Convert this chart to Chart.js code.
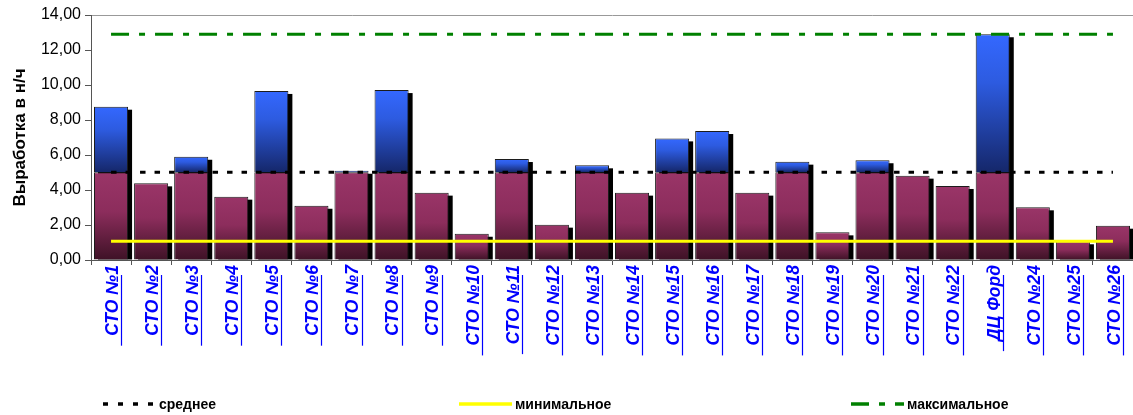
<!DOCTYPE html>
<html lang="ru">
<head>
<meta charset="utf-8">
<title>Выработка в н/ч</title>
<script src="https://cdn.jsdelivr.net/npm/chart.js@4.4.1/dist/chart.umd.min.js"></script>
<style>
body{margin:0;background:#fff;font-family:Arial,"Liberation Sans",sans-serif;}
.chart-box{position:relative;width:1133px;height:415px;}
.legend{position:absolute;left:0;top:395px;width:1133px;height:18px;}
.legend .item{position:absolute;top:0;height:18px;display:flex;align-items:center;font-weight:bold;font-size:14px;color:#000;white-space:nowrap;}
.legend svg{margin-right:3px;}
</style>
</head>
<body>
<div class="chart-box">
<canvas id="workChart"></canvas>
<div class="legend" id="legend"></div>
</div>
<script>
const stations = [
'СТО №1','СТО №2','СТО №3','СТО №4','СТО №5','СТО №6','СТО №7','СТО №8','СТО №9','СТО №10',
'СТО №11','СТО №12','СТО №13','СТО №14','СТО №15','СТО №16','СТО №17','СТО №18','СТО №19','СТО №20',
'СТО №21','СТО №22','ДЦ Форд','СТО №24','СТО №25','СТО №26'
];

// выработка по каждой станции, н/ч
const hours = [
8.76, 4.38, 5.90, 3.62, 9.66, 3.10, 5.10, 9.71, 3.85, 1.50,
5.77, 2.02, 5.41, 3.85, 6.95, 7.37, 3.85, 5.62, 1.58, 5.70,
4.82, 4.23, 12.90, 3.01, 1.07, 1.96
];

const averageHours = 5.02;
const minimumHours = 1.07;
const maximumHours = 12.90;

const yMin = 0;
const yMax = 14;
const yStep = 2;

const labelFont = {family: 'Arial', size: 17.5, style: 'italic', weight: 'bold'};

// часть столбца до среднего и превышение над средним
let belowAvg = hours.map(v => Math.min(v, averageHours));
let aboveAvg = hours.map(v => Math.max(v - averageHours, 0));

const plumStops = [[0,'#9a3568'],[0.45,'#8c2d5c'],[1,'#3e1226']];
const blueStops = [[0,'#3468ff'],[0.35,'#2d5be0'],[1,'#15276a']];

function barGradient(stops, startOf){
return ctx => {
const chart = ctx.chart;
if(!chart.chartArea || ctx.dataIndex === undefined) return stops[1][1];
const y = chart.scales.y;
const from = startOf(ctx.dataIndex);
const top = y.getPixelForValue(from + ctx.raw);
const bottom = y.getPixelForValue(from);
if(!(bottom - top > 0.5)) return stops[1][1];
const g = chart.ctx.createLinearGradient(0, top, 0, bottom);
stops.forEach(s => g.addColorStop(s[0], s[1]));
return g;
};
}

function flatLine(value){
return [{x: stations[0], y: value}, {x: stations[stations.length - 1], y: value}];
}

// чёрная тень справа-снизу от каждого столбца
const barShadow = {
id: 'barShadow',
beforeDatasetsDraw(chart){
const ctx = chart.ctx;
const a = chart.chartArea;
const low = chart.getDatasetMeta(3).data;
const high = chart.getDatasetMeta(4).data;
ctx.save();
ctx.beginPath();
ctx.rect(a.left, a.top, a.right - a.left, a.bottom - a.top);
ctx.clip();
ctx.fillStyle = '#000';
low.forEach((bar, i) => {
const top = Math.min(bar.y, high[i].y);
const w = bar.width;
ctx.fillRect(bar.x - w / 2 + 4, top + 3, w, bar.base - top - 3);
});
ctx.restore();
}
};

// подчёркивание подписей категорий
const tickUnderline = {
id: 'tickUnderline',
afterDraw(chart){
const sx = chart.scales.x;
const ctx = chart.ctx;
ctx.save();
ctx.font = labelFont.style + ' ' + labelFont.weight + ' ' + labelFont.size + 'px ' + labelFont.family;
ctx.strokeStyle = '#0000ff';
ctx.lineWidth = 1.2;
stations.forEach((name, i) => {
const w = ctx.measureText(name).width;
const x = Math.round(sx.getPixelForTick(i) + 10) + 0.5;
const y0 = sx.top + 15;
ctx.beginPath();
ctx.moveTo(x, y0);
ctx.lineTo(x, y0 + w);
ctx.stroke();
});
ctx.restore();
}
};

const ctx = document.getElementById('workChart').getContext('2d');

new Chart(ctx, {
type: 'bar',
data: {
labels: stations,
datasets: [
{
type: 'line',
label: 'среднее',
data: flatLine(averageHours),
borderColor: '#000',
borderWidth: 3,
borderDash: [5.5, 9],
pointRadius: 0,
fill: false,
stack: 'avg',
order: 0
},
{
type: 'line',
label: 'минимальное',
data: flatLine(minimumHours),
borderColor: '#ffff00',
borderWidth: 3,
pointRadius: 0,
fill: false,
stack: 'min',
order: 0
},
{
type: 'line',
label: 'максимальное',
data: flatLine(maximumHours),
borderColor: '#008000',
borderWidth: 3,
borderDash: [18, 10, 6, 10],
pointRadius: 0,
fill: false,
stack: 'max',
order: 0
},
{
label: 'до среднего',
data: belowAvg,
backgroundColor: barGradient(plumStops, () => 0),
borderColor: '#1c1c1c',
borderWidth: 1,
barPercentage: 0.85,
categoryPercentage: 1,
stack: 'bars',
order: 1
},
{
label: 'выше среднего',
data: aboveAvg,
backgroundColor: barGradient(blueStops, i => belowAvg[i]),
borderColor: '#1c1c1c',
borderWidth: 1,
barPercentage: 0.85,
categoryPercentage: 1,
stack: 'bars',
order: 1
}
]
},
options: {
responsive: true,
maintainAspectRatio: false,
animation: false,
layout: {
padding: {left: 0, right: 0, top: 15, bottom: 0}
},
plugins: {
legend: {display: false},
tooltip: {enabled: false}
},
scales: {
x: {
stacked: true,
afterFit: s => {
s.height = 155;
s.paddingLeft = 0;
s.paddingRight = 0;
},
border: {color: '#555', width: 1},
grid: {
display: true,
drawOnChartArea: false,
tickLength: 5,
tickColor: '#555'
},
ticks: {
autoSkip: false,
maxRotation: 90,
minRotation: 90,
padding: 0,
labelOffset: 2,
color: '#0000ff',
font: labelFont
}
},
y: {
stacked: true,
min: yMin,
max: yMax,
afterFit: s => { s.width = 91; },
border: {color: '#555', width: 1},
grid: {
drawOnChartArea: true,
color: c => c.tick && c.tick.value === yMax ? '#999' : 'rgba(0,0,0,0)',
tickColor: '#555',
tickLength: 6
},
ticks: {
stepSize: yStep,
padding: 4,
color: '#000',
font: {family: 'Arial', size: 16},
callback: v => v.toFixed(2).replace('.', ',')
},
title: {
display: true,
text: 'Выработка в н/ч',
color: '#000',
padding: {top: 10, bottom: 0},
font: {family: 'Arial', size: 17, weight: 'bold'}
}
}
}
},
plugins: [barShadow, tickUnderline]
});

// легенда под графиком
const legendItems = [
{text: 'среднее', color: '#000', dash: '5 10', left: 103},
{text: 'минимальное', color: '#ffff00', dash: '', left: 459},
{text: 'максимальное', color: '#008000', dash: '18 10 6 10', left: 851}
];

let legendBox = document.getElementById('legend');
legendItems.forEach(item => {
let div = document.createElement('div');
div.className = 'item';
div.style.left = item.left + 'px';
div.innerHTML = '<svg width="53" height="6"><line x1="0" y1="3" x2="53" y2="3" stroke="' + item.color +
'" stroke-width="3.5"' + (item.dash ? ' stroke-dasharray="' + item.dash + '"' : '') + '/></svg>';
let span = document.createElement('span');
span.textContent = item.text;
div.appendChild(span);
legendBox.appendChild(div);
});
</script>
</body>
</html>
